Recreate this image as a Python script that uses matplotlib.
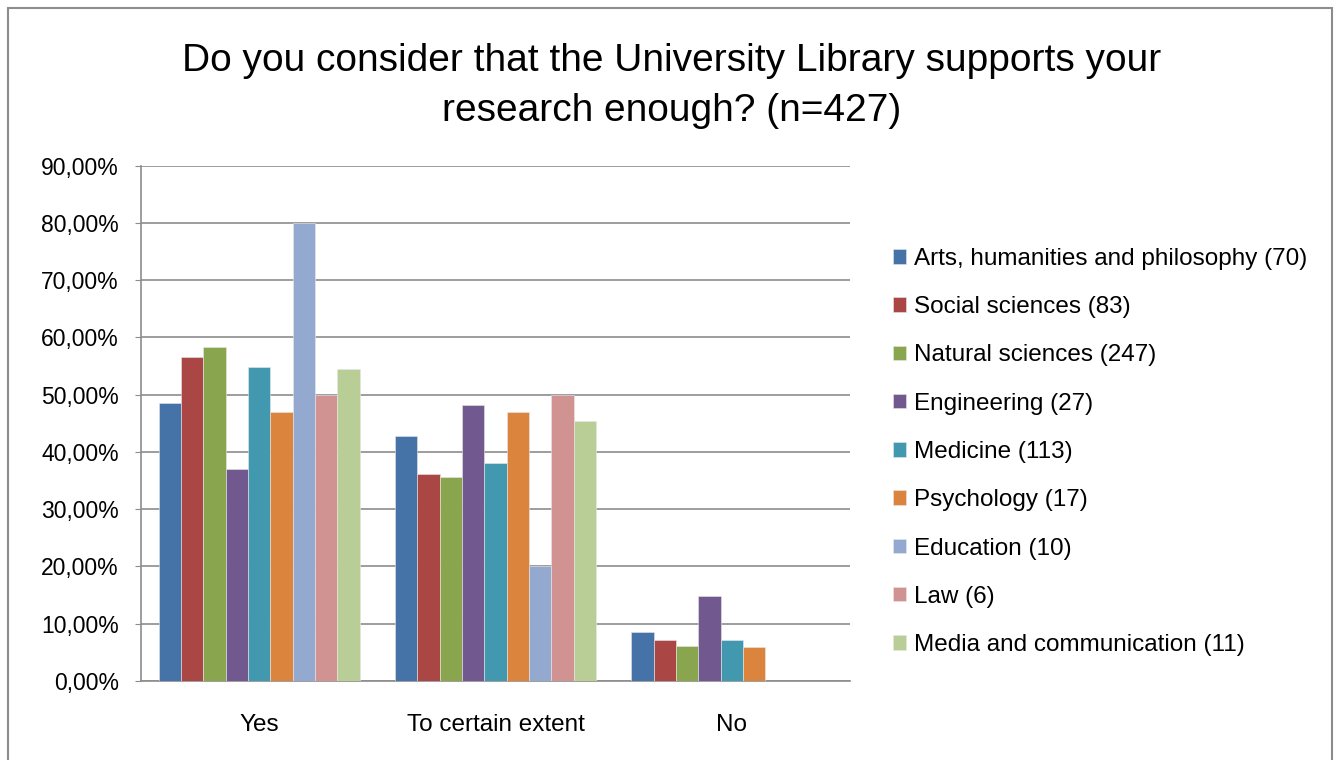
import numpy as np
import matplotlib.pyplot as plt
from matplotlib.patches import Rectangle
from matplotlib.ticker import FuncFormatter

answers = ['Yes', 'To certain extent', 'No']
fields = ['Arts, humanities and philosophy (70)', 'Social sciences (83)',
          'Natural sciences (247)', 'Engineering (27)', 'Medicine (113)',
          'Psychology (17)', 'Education (10)', 'Law (6)',
          'Media and communication (11)']
arts = [48.57, 42.86, 8.57]
social = [56.63, 36.14, 7.23]
natural = [58.30, 35.63, 6.07]
engineering = [37.04, 48.15, 14.81]
medicine = [54.87, 38.05, 7.08]
psychology = [47.06, 47.06, 5.88]
education = [80.0, 20.0, 0.0]
law = [50.0, 50.0, 0.0]
media = [54.55, 45.45, 0.0]

series = [arts, social, natural, engineering, medicine, psychology, education, law, media]
colors = ['#4572A7', '#AA4643', '#89A54E', '#71588F', '#4198AF',
          '#DB843D', '#93A9CF', '#D19392', '#B9CD96']

plt.rcParams['font.family'] = ['Liberation Sans', 'DejaVu Sans']

fig = plt.figure(figsize=(13.43, 7.6), dpi=100)
ax = fig.add_axes([0.105, 0.104, 0.528, 0.678])

x = np.arange(len(answers))
w = 0.85 / len(series)
for i, vals in enumerate(series):
    ax.bar(x - 0.425 + w * (i + 0.5), vals, width=w, color=colors[i],
           edgecolor='#e8e8e8', linewidth=0.4, label=fields[i], zorder=3)

ax.set_xlim(-0.5, 2.5)
ax.set_ylim(0, 90)
ax.set_yticks(np.arange(0, 91, 10))
ax.yaxis.set_major_formatter(FuncFormatter(lambda v, p: ('%.2f%%' % v).replace('.', ',')))
ax.set_xticks(x)
ax.set_xticklabels(answers)
ax.grid(axis='y', color='#8c8c8c', linewidth=1.2, zorder=0)
for s in ['top', 'right']:
    ax.spines[s].set_visible(False)
for s in ['left', 'bottom']:
    ax.spines[s].set_color('#8c8c8c')
    ax.spines[s].set_linewidth(1.2)
ax.tick_params(axis='y', labelsize=16.5, length=4, color='#8c8c8c', pad=12)
ax.tick_params(axis='x', labelsize=17.5, length=0, pad=24)

fig.legend(*ax.get_legend_handles_labels(), loc='center left',
           bbox_to_anchor=(893 / 1343, 1 - 452 / 760), frameon=False,
           borderpad=0, borderaxespad=0,
           fontsize=17.5, handlelength=0.55, handleheight=0.55, handletextpad=0.3,
           labelspacing=1.08)

fig.text(0.5, 1 - 86 / 760,
         'Do you consider that the University Library supports your\nresearch enough? (n=427)',
         ha='center', va='center', fontsize=28, linespacing=1.5)

fig.patches.append(Rectangle((0.006, -0.01), 0.986, 0.999, transform=fig.transFigure,
                             fill=False, edgecolor='#8c8c8c', linewidth=1.5))

fig.savefig('out.png', dpi=100)
